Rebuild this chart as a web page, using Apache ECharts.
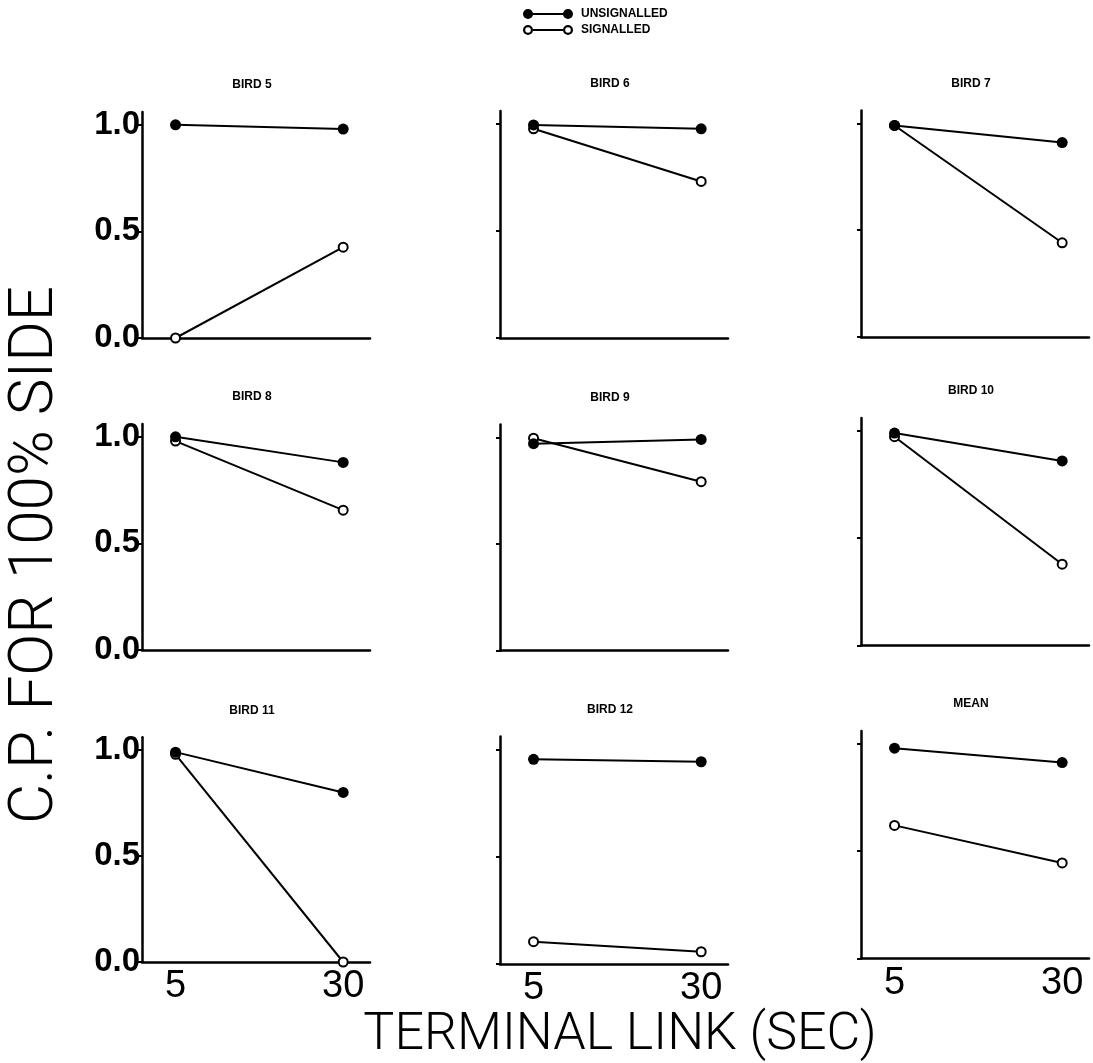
<!DOCTYPE html>
<html>
<head>
<meta charset="utf-8">
<script src="https://cdn.jsdelivr.net/npm/echarts@6/dist/echarts.min.js"></script>
<style>
html,body{margin:0;padding:0;background:#fff;}
#chart{width:1093px;height:1063px;}
</style>
</head>
<body>
<div id="chart"></div>
<script>
// ---- data ----
const panelNames = ['BIRD 5','BIRD 6','BIRD 7','BIRD 8','BIRD 9','BIRD 10','BIRD 11','BIRD 12','MEAN'];
const terminalLinks = [5, 30];
const unsignalledAt5  = [1.00, 0.995, 0.99, 1.00, 0.97, 0.99, 0.99, 0.953, 0.98];
const unsignalledAt30 = [0.98, 0.977, 0.91, 0.88, 0.99, 0.86, 0.80, 0.942, 0.913];
const signalledAt5    = [0.00, 0.977, 0.99, 0.98, 0.996, 0.973, 0.98, 0.104, 0.62];
const signalledAt30   = [0.426, 0.731, 0.441, 0.656, 0.792, 0.379, 0.00, 0.057, 0.445];
const yTickValues = [0, 0.5, 1.0];
const xTickValues = [5, 30];
const seriesNames = ['UNSIGNALLED', 'SIGNALLED'];
const xAxisTitle = 'TERMINAL LINK (SEC)';
const yAxisTitle = 'C.P. FOR 100% SIDE';

// ---- layout (pixel positions of each panel) ----
const gridLeft = [142, 500, 861, 142, 500, 861, 142, 500, 861];
const gridTop  = [112, 111, 110.5, 424, 424.5, 418, 737.3, 736.4, 731];
const gridH    = [226, 227, 226.5, 226, 226.2, 227.6, 224.7, 227.6, 227.4];
const gridW = 228;

const tickFont = {fontFamily:'Liberation Sans, Arial, sans-serif', fontWeight:'bold', fontSize:33, color:'#000'};
const titleFont = 'Roboto, Liberation Sans, sans-serif';

const grids = [], xAxes = [], yAxes = [], series = [], titles = [];
panelNames.forEach((name, i) => {
  const col = i % 3, row = Math.floor(i / 3);
  grids.push({left: gridLeft[i], top: gridTop[i], width: gridW, height: gridH[i], containLabel: false});
  titles.push({
    text: name, left: gridLeft[i] + 110, top: gridTop[i] - 33, textAlign: 'center', padding: 0,
    textStyle: {fontFamily:'Liberation Sans, Arial, sans-serif', fontWeight:'900', fontSize:12, color:'#000'}
  });
  xAxes.push({
    gridIndex: i, type: 'value', min: 0, max: 34,
    axisLine: {show: true, onZero: false, lineStyle: {color:'#000', width: 2.5}},
    axisTick: {show: false},
    splitLine: {show: false},
    axisLabel: {
      show: row === 2, customValues: xTickValues, margin: 6,
      fontFamily:'Liberation Sans Narrow, Liberation Sans, Arial, sans-serif', fontWeight:'normal', fontSize:38, color:'#000'
    }
  });
  yAxes.push({
    gridIndex: i, type: 'value', min: 0, max: 1.06,
    axisLine: {show: true, onZero: false, lineStyle: {color:'#000', width: 2.5}},
    axisTick: {show: true, customValues: yTickValues, length: 4, inside: false, lineStyle: {color:'#000', width: 2}},
    splitLine: {show: false},
    axisLabel: Object.assign({
      show: col === 0, customValues: yTickValues, margin: 2,
      formatter: v => v.toFixed(1)
    }, tickFont)
  });
  series.push({
    name: seriesNames[1], type: 'line', xAxisIndex: i, yAxisIndex: i,
    data: [[terminalLinks[0], signalledAt5[i]], [terminalLinks[1], signalledAt30[i]]],
    symbol: 'circle', symbolSize: 9, showSymbol: true,
    lineStyle: {color:'#000', width: 2},
    itemStyle: {color:'#fff', borderColor:'#000', borderWidth: 2},
    emphasis: {disabled: true}, z: 2
  });
  series.push({
    name: seriesNames[0], type: 'line', xAxisIndex: i, yAxisIndex: i,
    data: [[terminalLinks[0], unsignalledAt5[i]], [terminalLinks[1], unsignalledAt30[i]]],
    symbol: 'circle', symbolSize: 11, showSymbol: true,
    lineStyle: {color:'#000', width: 2},
    itemStyle: {color:'#000'},
    emphasis: {disabled: true}, z: 3
  });
});

const iconFilled = 'path://M0,5A5,5,0,1,1,10,5A5,5,0,1,1,0,5ZM40,5A5,5,0,1,1,50,5A5,5,0,1,1,40,5ZM8,4L42,4L42,6L8,6Z';
const iconOpen = 'path://M0,5A5,5,0,1,1,10,5A5,5,0,1,1,0,5ZM2.2,5A2.8,2.8,0,1,0,7.8,5A2.8,2.8,0,1,0,2.2,5ZM40,5A5,5,0,1,1,50,5A5,5,0,1,1,40,5ZM42.2,5A2.8,2.8,0,1,0,47.8,5A2.8,2.8,0,1,0,42.2,5ZM10,4L40,4L40,6L10,6Z';

const chart = echarts.init(document.getElementById('chart'), null, {renderer: 'canvas'});
chart.setOption({
  animation: false,
  backgroundColor: '#fff',
  title: titles,
  legend: {
    orient: 'vertical', left: 523, top: 8, itemGap: 4, itemWidth: 50, itemHeight: 10, padding: 0,
    selectedMode: false,
    textStyle: {fontFamily:'Liberation Sans, Arial, sans-serif', fontWeight:'900', fontSize:12, color:'#000', padding:[0,0,0,3]},
    data: [
      {name: seriesNames[0], icon: iconFilled, itemStyle: {color:'#000', borderWidth: 0}},
      {name: seriesNames[1], icon: iconOpen, itemStyle: {color:'#000', borderWidth: 0}}
    ]
  },
  grid: grids,
  xAxis: xAxes,
  yAxis: yAxes,
  series: series,
  graphic: [
    {type:'text', x: 620, y: 1036, style: {text: xAxisTitle, fontFamily: titleFont, fontWeight: 300, fontSize: 52, fill:'#000', align:'center', verticalAlign:'middle'}},
    {type:'text', x: 36, y: 555, rotation: Math.PI/2, style: {text: yAxisTitle, fontFamily: titleFont, fontWeight: 300, fontSize: 62, fill:'#000', align:'center', verticalAlign:'middle'}}
  ]
});
</script>
</body>
</html>
